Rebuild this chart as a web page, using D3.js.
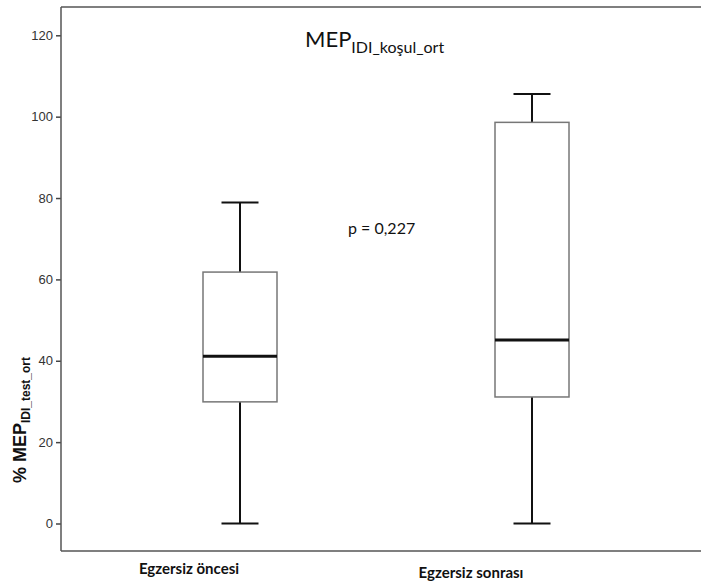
<!DOCTYPE html>
<html>
<head>
<meta charset="utf-8">
<script src="https://cdn.jsdelivr.net/npm/d3@7"></script>
<style>
  body { margin: 0; background: #fff; }
  svg { display: block; }
</style>
</head>
<body>
<div id="chart"></div>
<script>
// box plot data
var groups = ["Egzersiz öncesi", "Egzersiz sonrası"];
var mins    = [0, 0];
var q1s     = [29.9, 31.1];
var medians = [41.1, 45.1];
var q3s     = [61.8, 98.6];
var maxs    = [78.9, 105.6];
var yTicks  = [0, 20, 40, 60, 80, 100, 120];

var data = groups.map(function(g, i) {
  return {name: g, min: mins[i], q1: q1s[i], med: medians[i], q3: q3s[i], max: maxs[i]};
});

var width = 701, height = 584;
var frame = {left: 61, top: 7, bottom: 551};

var svg = d3.select("#chart").append("svg")
    .attr("width", width)
    .attr("height", height);

var y = d3.scaleLinear()
    .domain([0, 120])
    .range([523.5, 35.3]);

var x = d3.scalePoint()
    .domain(groups)
    .range([240, 532]);

// category labels sit a bit left of the boxes
var xLab = d3.scalePoint()
    .domain(groups)
    .range([189, 471]);

var boxW = 74, capW = 37;

// frame: top and bottom lines
svg.append("line")
    .attr("x1", frame.left).attr("x2", width)
    .attr("y1", frame.top).attr("y2", frame.top)
    .attr("stroke", "#555").attr("stroke-width", 1.5);
svg.append("line")
    .attr("x1", frame.left).attr("x2", width)
    .attr("y1", frame.bottom).attr("y2", frame.bottom)
    .attr("stroke", "#555").attr("stroke-width", 1.5);

// y axis
var yAxis = svg.append("g")
    .attr("transform", "translate(" + frame.left + ",0)")
    .call(d3.axisLeft(y).tickValues(yTicks).tickSize(5).tickPadding(3));
yAxis.select(".domain").remove();
yAxis.attr("font-size", null).attr("font-family", null);
yAxis.append("line")
    .attr("x1", 0).attr("x2", 0)
    .attr("y1", frame.top).attr("y2", frame.bottom)
    .attr("stroke", "#555").attr("stroke-width", 1.5);
yAxis.selectAll(".tick line").attr("stroke", "#444").attr("stroke-width", 1.5);
yAxis.selectAll(".tick text")
    .attr("fill", "#333")
    .style("font-family", "'Liberation Sans', Arial, sans-serif")
    .style("font-size", "13px");

// boxes
var box = svg.selectAll(".box")
    .data(data)
  .enter().append("g")
    .attr("class", "box")
    .attr("transform", function(d) { return "translate(" + x(d.name) + ",0)"; });

// whiskers
box.append("line")
    .attr("x1", 0).attr("x2", 0)
    .attr("y1", function(d) { return y(d.q3); })
    .attr("y2", function(d) { return y(d.max); })
    .attr("stroke", "#111").attr("stroke-width", 2);
box.append("line")
    .attr("x1", 0).attr("x2", 0)
    .attr("y1", function(d) { return y(d.q1); })
    .attr("y2", function(d) { return y(d.min); })
    .attr("stroke", "#111").attr("stroke-width", 2);
box.append("line")
    .attr("x1", -capW / 2).attr("x2", capW / 2)
    .attr("y1", function(d) { return y(d.max); })
    .attr("y2", function(d) { return y(d.max); })
    .attr("stroke", "#111").attr("stroke-width", 2);
box.append("line")
    .attr("x1", -capW / 2).attr("x2", capW / 2)
    .attr("y1", function(d) { return y(d.min); })
    .attr("y2", function(d) { return y(d.min); })
    .attr("stroke", "#111").attr("stroke-width", 2);

box.append("rect")
    .attr("x", -boxW / 2)
    .attr("width", boxW)
    .attr("y", function(d) { return y(d.q3); })
    .attr("height", function(d) { return y(d.q1) - y(d.q3); })
    .attr("fill", "#fff")
    .attr("stroke", "#777").attr("stroke-width", 1.5);

box.append("line")
    .attr("x1", -boxW / 2).attr("x2", boxW / 2)
    .attr("y1", function(d) { return y(d.med); })
    .attr("y2", function(d) { return y(d.med); })
    .attr("stroke", "#111").attr("stroke-width", 3);

// category labels
svg.selectAll(".xlab")
    .data(groups)
  .enter().append("text")
    .attr("class", "xlab")
    .attr("x", function(d) { return xLab(d); })
    .attr("y", function(d, i) { return i == 0 ? 574 : 578; })
    .attr("text-anchor", "middle")
    .style("font-family", "Lato, sans-serif")
    .style("font-weight", "bold")
    .style("font-size", "15px")
    .attr("fill", "#111")
    .text(function(d) { return d; });

// title
var title = svg.append("text")
    .attr("x", 305).attr("y", 47)
    .style("font-family", "Lato, sans-serif")
    .attr("fill", "#111");
title.append("tspan").style("font-size", "22px").text("MEP");
title.append("tspan").attr("dy", 6).style("font-size", "16px").text("IDI_koşul_ort");

// p value
svg.append("text")
    .attr("x", 348).attr("y", 234)
    .style("font-family", "Lato, sans-serif")
    .style("font-size", "16px")
    .attr("fill", "#111")
    .text("p = 0,227");

// y label
var yl = svg.append("text")
    .attr("transform", "translate(26,483) rotate(-90)")
    .style("font-family", "'Liberation Sans', Arial, sans-serif")
    .style("font-weight", "bold")
    .attr("fill", "#111");
yl.append("tspan").style("font-size", "18px").text("% MEP");
yl.append("tspan").attr("dy", 4).style("font-size", "12px").text("IDI_test_ort");
</script>
</body>
</html>
